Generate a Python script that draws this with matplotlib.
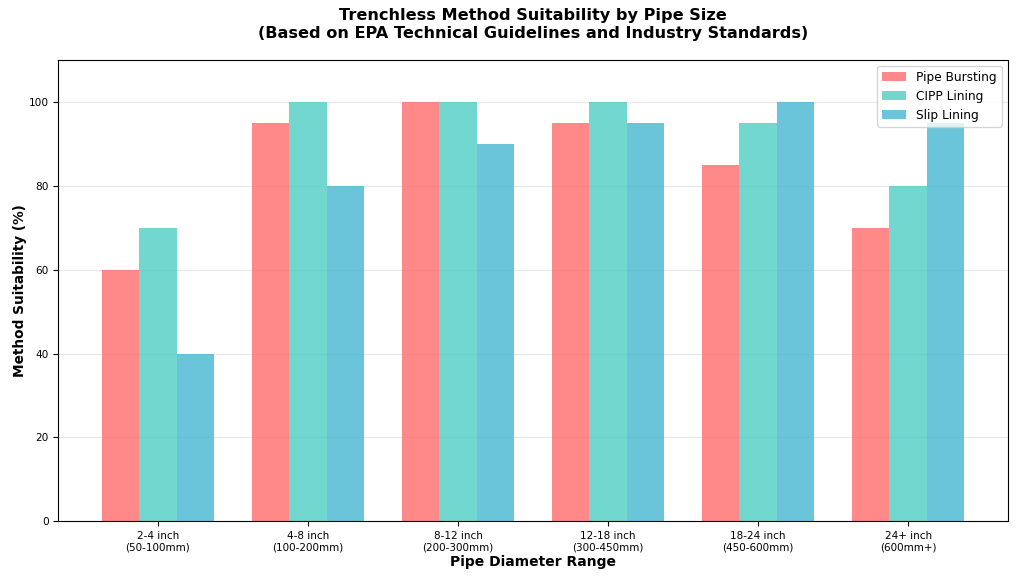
import matplotlib
matplotlib.use("Agg")
import matplotlib.pyplot as plt
import numpy as np

categories = ["2-4 inch\n(50-100mm)", "4-8 inch\n(100-200mm)", "8-12 inch\n(200-300mm)",
              "12-18 inch\n(300-450mm)", "18-24 inch\n(450-600mm)", "24+ inch\n(600mm+)"]
pipe_bursting = [60, 95, 100, 95, 85, 70]
cipp_lining = [70, 100, 100, 100, 95, 80]
slip_lining = [40, 80, 90, 95, 100, 95]

fig, ax = plt.subplots(figsize=(10.24, 5.76), dpi=100)
fig.subplots_adjust(left=0.057, right=0.984, top=0.896, bottom=0.095)

x = np.arange(len(categories))
w = 0.25
ax.bar(x - w, pipe_bursting, w, label="Pipe Bursting", color="#FF6B6B", alpha=0.8)
ax.bar(x, cipp_lining, w, label="CIPP Lining", color="#4ECDC4", alpha=0.8)
ax.bar(x + w, slip_lining, w, label="Slip Lining", color="#45B7D1", alpha=0.8)

ax.set_xticks(x)
ax.set_xticklabels(categories, fontsize=7.5)
ax.tick_params(axis="y", labelsize=7.6)
ax.set_ylim(0, 110)
ax.set_xlabel("Pipe Diameter Range", fontsize=10, fontweight="bold", labelpad=2)
ax.set_ylabel("Method Suitability (%)", fontsize=9.8, fontweight="bold", labelpad=1)
ax.set_title("Trenchless Method Suitability by Pipe Size\n"
             "(Based on EPA Technical Guidelines and Industry Standards)",
             fontsize=11.6, fontweight="bold", pad=16)
ax.grid(axis="y", alpha=0.3)
ax.set_axisbelow(True)
ax.legend(loc="upper right", fontsize=8.7)

fig.savefig("out.png", dpi=100)
